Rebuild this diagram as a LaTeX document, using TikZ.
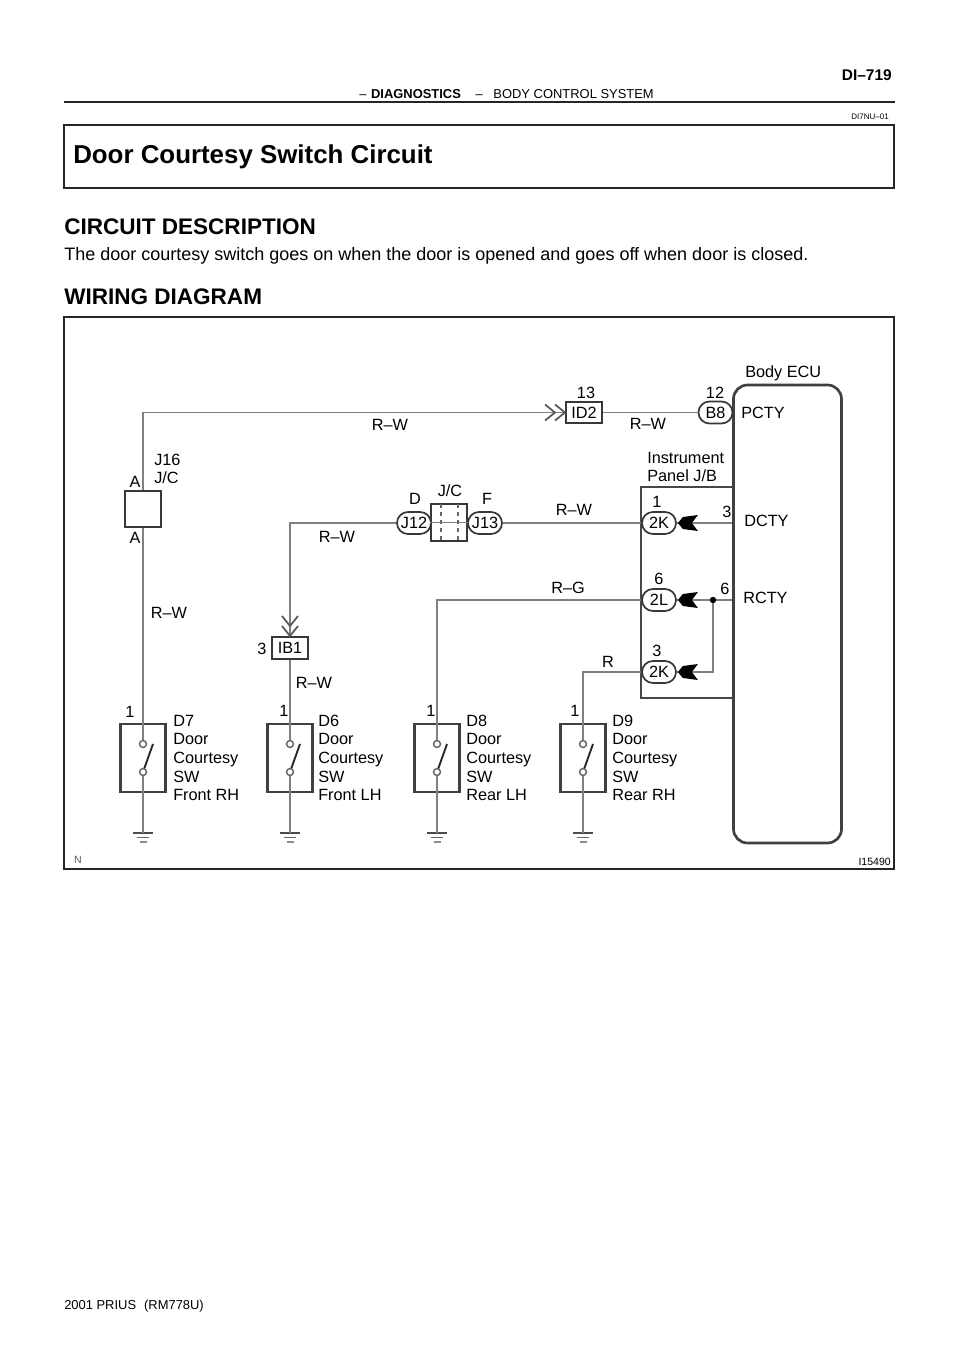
\documentclass[tikz,border=0pt]{standalone}
\usepackage{fontspec}
\setmainfont{Liberation Sans}
\usetikzlibrary{shapes.misc}
\tikzset{
lbl/.style={inner sep=0pt,font=\fontsize{12.2}{14}\selectfont,align=left},
lblw/.style={lbl,anchor=west},
wire/.style={draw=black!50,line width=1.4pt},
frame/.style={draw=black!72,line width=1.7pt},
pill/.style={rounded rectangle,draw=black!78,line width=1.3pt,fill=white,inner sep=0pt,minimum width=25.5pt,minimum height=16.5pt,font=\fontsize{12.2}{14}\selectfont},
conbox/.style={rectangle,draw=black!78,line width=1.5pt,fill=white,inner sep=0pt,font=\fontsize{12.2}{14}\selectfont},
chevrons/.pic={\draw[black!65,line width=1.3pt](-20,-8)--(-10,0)--(-20,8)(-10,-8)--(0,0)--(-10,8);},
plug/.pic={\fill[black](1,0)--(6,-6)--(21,-8)--(15,0)--(21,8)--(6,6)--cycle;},
earth/.pic={\draw[black!70,line width=1.4pt](-10,0)--(10,0);\draw[black!60,line width=1.1pt](-6,4.5)--(6,4.5);\draw[black!45,line width=1pt](-3.5,9)--(3.5,9);}
}
\begin{document}
\begin{tikzpicture}[x=0.75pt,y=-0.75pt]
\useasboundingbox(0,0)rectangle(960,1358);
\node[inner sep=0pt,anchor=west,font=\fontsize{9.7}{11}\selectfont](hdr)at(359,94){–\hspace{3.5pt}\textbf{DIAGNOSTICS}\hspace{11pt}–\hspace{8pt}BODY CONTROL SYSTEM};
\node[inner sep=0pt,anchor=east,font=\fontsize{11.6}{13}\bfseries\selectfont](page)at(892,75){DI–719};
\draw[black!85,line width=1.2pt](64,102)--(895,102);
\node[inner sep=0pt,anchor=east,font=\fontsize{6}{7}\selectfont](docid)at(889,117){DI7NU–01};
\draw[black!85,line width=1.2pt](64,125)rectangle(894,188);
\node[inner sep=0pt,anchor=west,font=\fontsize{19.4}{22}\bfseries\selectfont](title)at(73,157){Door Courtesy Switch Circuit};
\node[inner sep=0pt,anchor=west,font=\fontsize{16.9}{20}\bfseries\selectfont](cd)at(64,227){CIRCUIT DESCRIPTION};
\node[inner sep=0pt,anchor=west,font=\fontsize{13.5}{16}\selectfont](para)at(64,256){The door courtesy switch goes on when the door is opened and goes off when door is closed.};
\node[inner sep=0pt,anchor=west,font=\fontsize{16.9}{20}\bfseries\selectfont](wd)at(64,297){WIRING DIAGRAM};
\draw[black!85,line width=1.4pt](64,317)rectangle(894,869);
\node[inner sep=0pt,anchor=east,font=\fontsize{7.9}{9}\selectfont](fig)at(891,862){I15490};
\node[inner sep=0pt,font=\fontsize{7.9}{9}\selectfont,text=black!65](north)at(78,860){N};
\node[inner sep=0pt,anchor=west,font=\fontsize{9.7}{11}\selectfont](foot)at(64,1306){2001 PRIUS\hspace{6pt}(RM778U)};
\node[draw=black!75,line width=2pt,rounded corners=10.5pt,minimum width=81pt,minimum height=343.5pt,inner sep=0pt](ecu)at(787.5,614){};
\draw[frame](ecu.west|-0,487)--(641,487)--(641,698)--(ecu.west|-0,698);
\node[conbox,minimum width=27pt,minimum height=27pt](jca)at(143,509){};
\node[conbox,minimum width=27pt,minimum height=15.75pt](idb)at(584,412.5){ID2};
\node[conbox,minimum width=27pt,minimum height=16.5pt](ibb)at(290,648){IB1};
\node[pill](beight)at(715.5,412.5){B8};
\node[pill](jtwelve)at(414,523){J12};
\node[pill](jthirteen)at(485,523){J13};
\node[conbox,minimum width=27pt,minimum height=27.75pt](junc)at(449,522.5){};
\draw[black!50,line width=.9pt](junc.west)--(junc.east);
\draw[black!60,line width=.9pt,dashed](441,504)--(441,541)(458,504)--(458,541);
\node[pill](kone)at(659,523){2K};
\node[pill](ltwo)at(659,600){2L};
\node[pill](kthree)at(659,672){2K};
\foreach \n/\x in {seven/143,six/290,eight/437,nine/583}{
\coordinate(top\n)at(\x,744);
\coordinate(bot\n)at(\x,772);
\coordinate(gnd\n)at(\x,833);
\node[draw=black!75,line width=1.7pt,minimum width=33.75pt,minimum height=51pt,inner sep=0pt](sw\n)at(\x,758){};
\pic at(gnd\n){earth};
}
\node[lblw](tseven)at(173,758){D7\\Door\\Courtesy\\SW\\Front RH};
\node[lblw](tsix)at(318,758){D6\\Door\\Courtesy\\SW\\Front LH};
\node[lblw](teight)at(466,758){D8\\Door\\Courtesy\\SW\\Rear LH};
\node[lblw](tnine)at(612,758){D9\\Door\\Courtesy\\SW\\Rear RH};
\draw[wire](jca.north)|-(idb.west);
\draw[wire](jca.south)--(topseven);
\draw[wire](idb.east)--(beight.west);
\draw[wire](jtwelve.west)-|(ibb.north);
\draw[wire](ibb.south)--(topsix);
\draw[wire](jthirteen.east)--(kone.west);
\draw[wire](ltwo.west)-|(topeight);
\draw[wire](kthree.west)-|(topnine);
\draw[wire](kone.east)--(kone-|ecu.west);
\draw[wire](ltwo.east)--(ltwo-|ecu.west);
\coordinate(dot)at(713,600);
\draw[wire](dot)|-(kthree.east);
\fill[black](dot)circle[radius=2.4pt];
\foreach \n in {seven,six,eight,nine}{
\draw[wire](bot\n)--(gnd\n);
\draw[black!85,line width=1.4pt](bot\n)--++(10,-28);
\draw[black!60,line width=1.1pt,fill=white](top\n)circle[radius=2.6pt];
\draw[black!60,line width=1.1pt,fill=white](bot\n)circle[radius=2.6pt];
}
\pic at(idb.west){chevrons};
\pic[rotate=-90]at(ibb.north){chevrons};
\foreach \p in {kone,ltwo,kthree}{\pic at(\p.east){plug};}
\node[lbl](lrwa)at(390,425){R–W};
\node[lbl](lrwb)at(648,424){R–W};
\node[lbl](lrwc)at(574,510){R–W};
\node[lbl](lrwd)at(337,537){R–W};
\node[lbl](lrwe)at(169,613){R–W};
\node[lbl](lrwf)at(314,683){R–W};
\node[lbl](lrg)at(568,588){R–G};
\node[lbl](lr)at(608,662){R};
\node[lblw](ljc)at(154,469){J16\\J/C};
\node[lbl](aup)at(135,482){A};
\node[lbl](adn)at(135,538){A};
\node[lbl](ld)at(415,499){D};
\node[lbl](ljb)at(450,491){J/C};
\node[lbl](lf)at(487,499){F};
\node[lbl](nthree)at(262,649){3};
\node[lbl](none)at(130,712){1};
\node[lbl](ntwo)at(284,711){1};
\node[lbl](nfour)at(431,711){1};
\node[lbl](nfive)at(575,711){1};
\node[lblw](body)at(745,373){Body ECU};
\node[lbl](nthirteen)at(586,393){13};
\node[lbl](ntwelve)at(715,393){12};
\node[lblw](pcty)at(741,413){PCTY};
\node[lblw](dcty)at(744,521){DCTY};
\node[lblw](rcty)at(743,598){RCTY};
\node[lbl](pthree)at(727,512){3};
\node[lbl](psix)at(725,589){6};
\node[lblw](ipjb)at(647,467){Instrument\\Panel J/B};
\node[lbl](kn)at(657,502){1};
\node[lbl](ln)at(659,579){6};
\node[lbl](kt)at(657,651){3};
\end{tikzpicture}
\end{document}
